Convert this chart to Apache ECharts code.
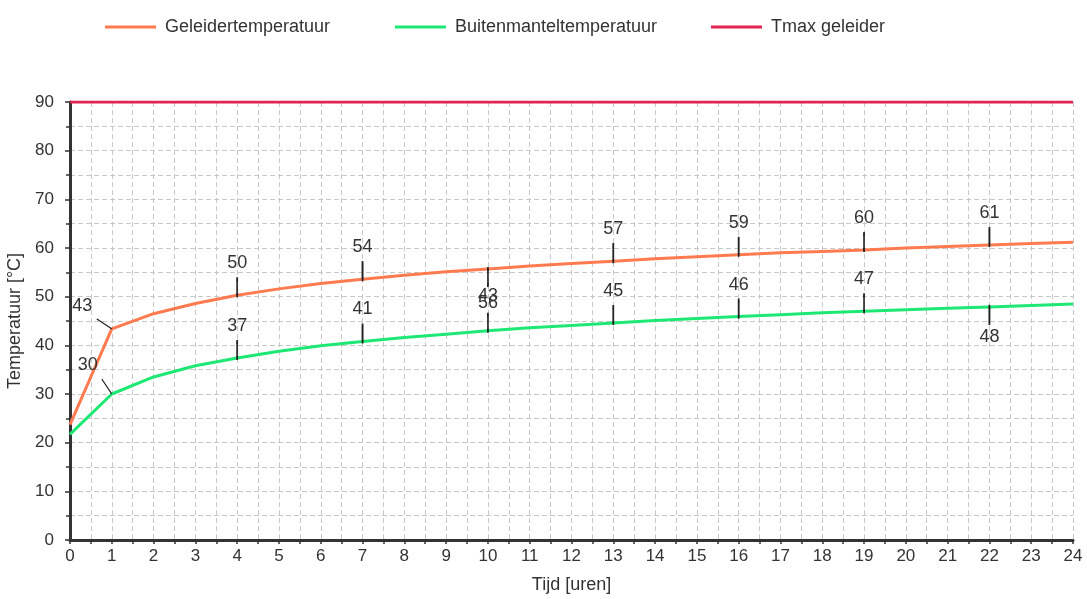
<!DOCTYPE html>
<html>
<head>
<meta charset="utf-8">
<script src="https://cdn.jsdelivr.net/npm/echarts@6/dist/echarts.min.js"></script>
<style>html,body{margin:0;padding:0;background:#fff}#c{width:1087px;height:599px}</style>
</head>
<body>
<div id="c"></div>
<script>
const hours = [0,1,2,3,4,5,6,7,8,9,10,11,12,13,14,15,16,17,18,19,20,21,22,23,24];
const conductorTemp = [23.7,43.4,46.5,48.6,50.3,51.6,52.7,53.6,54.4,55.1,55.7,56.3,56.8,57.3,57.8,58.2,58.6,59.0,59.3,59.6,60.0,60.3,60.6,60.9,61.2];
const sheathTemp = [21.7,30.0,33.5,35.8,37.4,38.8,39.9,40.8,41.6,42.3,43.0,43.6,44.1,44.6,45.1,45.5,45.9,46.3,46.7,47.0,47.3,47.6,47.9,48.2,48.5];
const tmaxValue = 90;
const labelHours = [1,4,7,10,13,16,19,22];
const conductorLabels = ['43','50','54','56','57','59','60','61'];
const sheathLabels = ['30','37','41','43','45','46','47','48'];
const seriesNames = ['Geleidertemperatuur','Buitenmanteltemperatuur','Tmax geleider'];
const yTicks = [0,10,20,30,40,50,60,70,80,90];

const FONT = 'Liberation Sans, Arial, sans-serif';
const TXT = '#333';

function pairs(vals){ return hours.map((h,i)=>[h, vals[i]]); }

function buildMarks(vals, labels, kind){
  return labelHours.map((h, k) => {
    const y = vals[hours.indexOf(h)];
    const base = {coord:[h, y], value: labels[k], itemStyle:{color:'#222', borderColor:'#222', borderWidth:1.2}};
    const lbl = {show:true, color:TXT, fontFamily:FONT, fontSize:18, formatter: labels[k]};
    if (h === 1) {
      if (kind === 'c') {
        return Object.assign(base, {symbol:'path://M0,0L15,10', symbolSize:[15,10], symbolOffset:[-7.5,-5],
          label:Object.assign(lbl,{position:'inside', offset:[-22,-18]})});
      } else {
        return Object.assign(base, {symbol:'path://M0,0L10,15', symbolSize:[10,15], symbolOffset:[-5,-7.5],
          label:Object.assign(lbl,{position:'inside', offset:[-19,-21]})});
      }
    }
    const down = (kind === 'c' && h === 10) || (kind === 's' && h === 22);
    let dist = 5;
    if (kind === 's' && h === 10) dist = 8;
    if (kind === 'c' && h === 10) dist = 7;
    if (kind === 's' && h === 22) dist = 3;
    return Object.assign(base, {symbol:'rect', symbolSize:[1.4,16], symbolOffset:[0, down?8:-8],
      label:Object.assign(lbl,{position: down?'bottom':'top', distance:dist})});
  });
}

const colors = ['#ff7b4f','#1ee874','#e0234f'];

function legendAt(name, left){
  return {data:[name], left:left, top:13, icon:'rect', itemWidth:51, itemHeight:3,
    textStyle:{color:TXT, fontFamily:FONT, fontSize:18, padding:[0,0,0,4]}};
}

const chart = echarts.init(document.getElementById('c'));
chart.setOption({
  animation:false,
  backgroundColor:'#fff',
  color: colors,
  legend:[legendAt(seriesNames[0],100), legendAt(seriesNames[1],390), legendAt(seriesNames[2],706)],
  grid:{left:70, right:14, top:102, bottom:59, containLabel:false, outerBoundsMode:'none'},
  xAxis:{type:'value', min:0, max:24, interval:1,
    name:'Tijd [uren]', nameLocation:'middle', nameGap:36,
    nameTextStyle:{color:TXT, fontFamily:FONT, fontSize:18},
    axisLine:{lineStyle:{color:'#333', width:3}},
    axisTick:{show:true, length:4, lineStyle:{color:'#333', width:1.5}},
    minorTick:{show:true, splitNumber:2, length:4, lineStyle:{color:'#333', width:1.5}},
    axisLabel:{color:TXT, fontFamily:FONT, fontSize:17, margin:8},
    splitLine:{show:true, lineStyle:{color:'#c8c8c8', type:[5,3], width:1}},
    minorSplitLine:{show:true, lineStyle:{color:'#c8c8c8', type:[5,3], width:1}}
  },
  yAxis:{type:'value', min:0, max:90, interval:10,
    name:'Temperatuur [°C]', nameLocation:'middle', nameGap:39,
    nameTextStyle:{color:TXT, fontFamily:FONT, fontSize:18},
    axisLine:{show:true, lineStyle:{color:'#333', width:3}},
    axisTick:{show:true, length:5, lineStyle:{color:'#333', width:1.5}},
    minorTick:{show:true, splitNumber:2, length:4, lineStyle:{color:'#333', width:1.5}},
    axisLabel:{color:TXT, fontFamily:FONT, fontSize:17, margin:16, formatter:(v)=> yTicks.includes(v)? String(v):''},
    splitLine:{show:true, lineStyle:{color:'#c8c8c8', type:[5,3], width:1}},
    minorSplitLine:{show:true, lineStyle:{color:'#c8c8c8', type:[5,3], width:1}}
  },
  series:[
    {name:seriesNames[0], type:'line', data:pairs(conductorTemp), showSymbol:false, smooth:false,
      lineStyle:{width:3, color:colors[0]}, z:3,
      markPoint:{silent:true, data:buildMarks(conductorTemp, conductorLabels, 'c')}},
    {name:seriesNames[1], type:'line', data:pairs(sheathTemp), showSymbol:false,
      lineStyle:{width:3, color:colors[1]}, z:3,
      markPoint:{silent:true, data:buildMarks(sheathTemp, sheathLabels, 's')}},
    {name:seriesNames[2], type:'line', data:[[0,tmaxValue],[24,tmaxValue]], showSymbol:false,
      lineStyle:{width:3, color:colors[2]}, z:4}
  ]
});
</script>
</body>
</html>
